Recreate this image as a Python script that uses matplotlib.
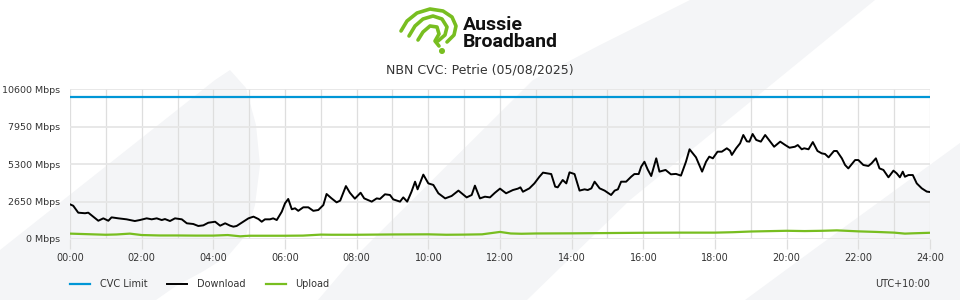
import matplotlib

matplotlib.use('agg')
import matplotlib.pyplot as plt
from matplotlib.patches import Polygon, Circle

# readings taken off the chart (hours since midnight, Mbps)
download_hours = [
    0.00, 0.09, 0.23, 0.42, 0.51, 0.65, 0.79, 0.93, 1.07, 1.16, 1.35, 1.58,
    1.81, 1.95, 2.14, 2.28, 2.42, 2.56, 2.65, 2.79, 2.93, 3.12, 3.26, 3.44,
    3.58, 3.72, 3.86, 4.05, 4.19, 4.33, 4.47, 4.56, 4.65, 4.79, 4.98, 5.12,
    5.26, 5.35, 5.44, 5.58, 5.67, 5.77, 5.91, 6.00, 6.09, 6.19, 6.28, 6.37,
    6.51, 6.65, 6.79, 6.93, 7.07, 7.16, 7.30, 7.44, 7.54, 7.70, 7.81, 7.95,
    8.11, 8.21, 8.42, 8.56, 8.65, 8.79, 8.93, 9.02, 9.21, 9.30, 9.41, 9.53,
    9.63, 9.70, 9.86, 10.00, 10.14, 10.28, 10.47, 10.65, 10.84, 10.93, 11.07,
    11.21, 11.30, 11.44, 11.58, 11.72, 11.86, 12.00, 12.17, 12.36, 12.50,
    12.57, 12.64, 12.82, 12.96, 13.10, 13.20, 13.43, 13.54, 13.61, 13.75,
    13.85, 13.94, 14.08, 14.22, 14.36, 14.45, 14.55, 14.64, 14.78, 14.92,
    15.10, 15.20, 15.29, 15.38, 15.52, 15.66, 15.75, 15.87, 15.94, 16.03,
    16.12, 16.22, 16.36, 16.45, 16.62, 16.77, 16.91, 17.05, 17.19, 17.29,
    17.47, 17.64, 17.75, 17.84, 17.94, 18.07, 18.19, 18.33, 18.42, 18.47,
    18.59, 18.70, 18.79, 18.89, 18.96, 19.05, 19.15, 19.28, 19.40, 19.54,
    19.65, 19.82, 19.96, 20.08, 20.23, 20.31, 20.42, 20.49, 20.61, 20.73,
    20.86, 20.98, 21.07, 21.17, 21.32, 21.40, 21.54, 21.63, 21.72, 21.82,
    21.91, 22.00, 22.14, 22.28, 22.37, 22.49, 22.59, 22.70, 22.84, 22.98,
    23.07, 23.16, 23.24, 23.30, 23.40, 23.52, 23.63, 23.77, 23.91, 24.00,
]
download_mbps = [
    2450, 2350, 1860, 1820, 1860, 1580, 1290, 1460, 1290, 1530, 1460, 1390,
    1270, 1340, 1460, 1390, 1460, 1340, 1410, 1270, 1460, 1390, 1110, 1060,
    920, 965, 1150, 1220, 940, 1110, 940, 870, 920, 1150, 1460, 1580,
    1410, 1220, 1390, 1390, 1460, 1340, 1930, 2520, 2830, 2100, 2170, 1990,
    2240, 2240, 1990, 2050, 2400, 3180, 2870, 2590, 2710, 3740, 3270, 2850,
    3270, 2870, 2640, 2870, 2830, 3160, 3110, 2800, 2640, 2940, 2640, 3340,
    4050, 3510, 4550, 3930, 3820, 3230, 2870, 3040, 3420, 3230, 2940,
    3110, 3770, 2870, 2990, 2940, 3270, 3560, 3230, 3460,
    3560, 3650, 3340, 3580, 3930, 4400, 4690, 4590, 3700, 3650, 4170,
    3930, 4710, 4590, 3420, 3510, 3460, 3580, 4050, 3580, 3420,
    3110, 3420, 3510, 4050, 4050, 4400, 4590, 4590, 5110, 5460,
    4920, 4450, 5700, 4760, 4880, 4570, 4600, 4480, 5460, 6340,
    5770, 4760, 5460, 5820, 5700, 6170, 6170, 6410, 6240, 5940,
    6410, 6760, 7350, 6900, 6880, 7420, 7000, 6880, 7350, 6880,
    6520, 6880, 6640, 6450, 6520, 6640, 6340, 6410, 6340, 6850,
    6220, 6050, 6010, 5770, 6220, 6220, 5700, 5230, 4990, 5300,
    5580, 5580, 5230, 5160, 5350, 5700, 4990, 4880, 4360, 4830,
    4640, 4360, 4760, 4400, 4520, 4520, 3930, 3580, 3350, 3320,
]

upload_hours = [
    0.0, 0.5, 1.0, 1.3, 1.67, 2.0, 2.5, 3.0, 3.5, 4.0, 4.4, 4.75, 5.0,
    5.5, 6.0, 6.5, 7.0, 7.3, 8.0, 9.0, 10.0, 10.5, 11.0, 11.5, 12.0,
    12.3, 12.6, 13.0, 14.0, 15.0, 16.0, 17.0, 18.0, 18.5, 19.0, 20.0,
    20.5, 21.0, 21.4, 22.0, 22.5, 23.0, 23.3, 23.5, 24.0,
]
upload_mbps = [
    380, 340, 300, 320, 380, 280, 250, 250, 240, 240, 280, 190, 230,
    230, 230, 240, 310, 300, 300, 320, 330, 300, 310, 330, 500,
    390, 370, 390, 400, 420, 440, 450, 450, 480, 530, 580,
    560, 580, 610, 540, 500, 450, 380, 400, 440,
]

cvc_limit = 10000
y_ticks = [0, 2650, 5300, 7950, 10600]
x_ticks = list(range(0, 25, 2))
x_labels = ['{:02d}:00'.format(h) for h in x_ticks]

BLUE = '#0096d6'
GREEN = '#78be20'
BG_GREY = '#f4f5f7'
GRID = '#dedede'

fig = plt.figure(figsize=(9.6, 3), dpi=100)

# backdrop shapes, in pixel space
bg = fig.add_axes([0, 0, 1, 1], zorder=0)
bg.set_xlim(0, 960)
bg.set_ylim(300, 0)
bg.axis('off')
shapes = [
    [(0, 250), (215, 80), (230, 70), (246, 88), (256, 125), (260, 165),
     (255, 205), (246, 235), (228, 256), (202, 272), (176, 286), (156, 300),
     (0, 300)],
    [(318, 300), (352, 260), (533, 80), (600, 45), (690, 0), (875, 0),
     (777, 80), (630, 200), (527, 300)],
    [(745, 300), (813, 250), (960, 143), (960, 300)],
]
for pts in shapes:
    bg.add_patch(Polygon(pts, closed=True, facecolor=BG_GREY, edgecolor='none'))

# logo swirl
strokes = [
    [(401, 31), (407, 21), (417, 13), (430, 9), (443, 11), (452, 17),
     (456, 26), (454, 35), (447, 42)],
    [(409, 36), (415, 26), (423, 19), (433, 16), (442, 19), (447, 27),
     (445, 35), (438, 41)],
    [(418, 40), (423, 32), (430, 26), (437, 27), (439, 34), (435, 41),
     (439, 46)],
]
for pts in strokes:
    xs, ys = zip(*pts)
    bg.plot(xs, ys, color=GREEN, lw=2.6, solid_capstyle='round',
            solid_joinstyle='round')
bg.add_patch(Circle((442, 51), 2.3, color=GREEN))

fig.text(463 / 960, 1 - 25 / 300, 'Aussie', fontsize=14, fontweight='bold',
         family='Roboto', va='center', ha='left', color='#111111')
fig.text(463 / 960, 1 - 42 / 300, 'Broadband', fontsize=14, fontweight='bold',
         family='Roboto', va='center', ha='left', color='#111111')
fig.text(0.5, 1 - 70 / 300, 'NBN CVC: Petrie (05/08/2025)', fontsize=9,
         ha='center', va='center', color='#333333')

ax = fig.add_axes([70 / 960, 61 / 300, 860 / 960, 150 / 300], zorder=1)
ax.patch.set_alpha(0)
ax.axhline(cvc_limit, color=BLUE, lw=1.6, label='CVC Limit')
ax.plot(download_hours, download_mbps, color='black', lw=1.4, label='Download')
ax.plot(upload_hours, upload_mbps, color=GREEN, lw=1.6, label='Upload')

ax.set_xlim(0, 24)
ax.set_ylim(0, 10600)
ax.set_xticks(x_ticks)
ax.set_xticklabels(x_labels)
ax.set_xticks(range(25), minor=True)
ax.set_yticks(y_ticks)
ax.set_yticklabels(['{} Mbps'.format(v) for v in y_ticks])
ax.grid(axis='x', which='both', color=GRID, lw=0.9)
ax.grid(axis='y', color='#e6e6e6', lw=1.3)
ax.set_axisbelow(True)
for s in ax.spines.values():
    s.set_visible(False)
ax.tick_params(axis='y', length=0, pad=7, labelsize=6.8, labelcolor='#333333')
ax.tick_params(axis='x', which='major', length=7, color=GRID, width=0.9,
               pad=3, labelsize=7, labelcolor='#333333')
ax.tick_params(axis='x', which='minor', length=0)

fig.legend(loc='center left', bbox_to_anchor=(70 / 960, 16 / 300), ncol=3,
           frameon=False, fontsize=7, handlelength=2.06, handletextpad=1.0,
           columnspacing=2.06, borderaxespad=0, borderpad=0,
           labelcolor='#333333')
fig.text(930 / 960, 16 / 300, 'UTC+10:00', fontsize=7, ha='right',
         va='center', color='#333333')

plt.savefig('out.png', dpi=100)
